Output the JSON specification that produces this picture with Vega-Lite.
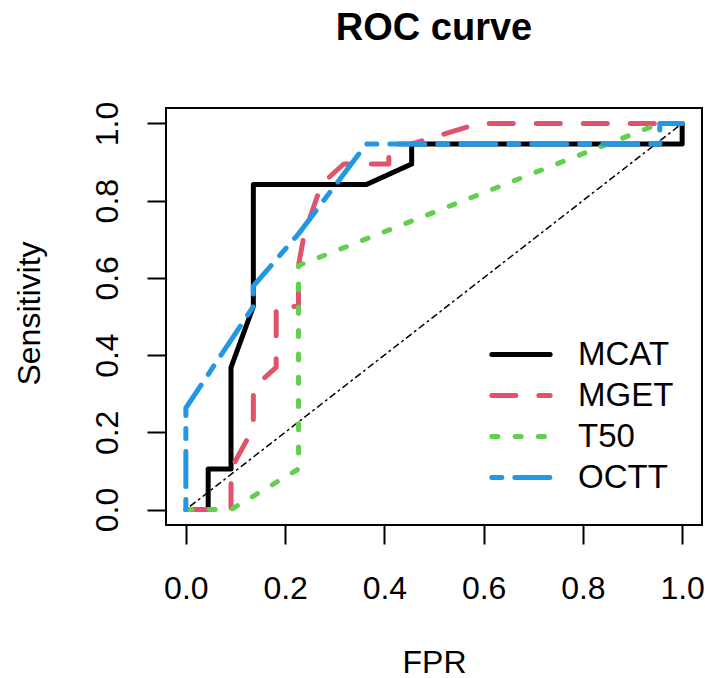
{
  "$schema": "https://vega.github.io/schema/vega-lite/v6.json",
  "width": 536,
  "height": 417,
  "autosize": {"type": "none"},
  "padding": {"left": 166, "top": 108, "right": 3, "bottom": 153},
  "background": "white",
  "title": {
    "text": "ROC curve",
    "font": "Liberation Sans",
    "fontSize": 38,
    "fontWeight": "bold",
    "color": "black",
    "anchor": "middle",
    "frame": "group",
    "offset": 53
  },
  "config": {
    "view": {"stroke": "black", "strokeWidth": 2},
    "axis": {
      "domain": false,
      "grid": false,
      "tickColor": "black",
      "tickWidth": 2,
      "tickSize": 19,
      "labelFont": "Liberation Sans",
      "labelFontSize": 32,
      "labelColor": "black",
      "titleFont": "Liberation Sans",
      "titleFontSize": 32,
      "titleFontWeight": "normal",
      "titleColor": "black"
    }
  },
  "datasets": {
    "curves": [
      {"series": "MCAT", "fpr": 0, "sens": 0, "i": 0},
      {"series": "MCAT", "fpr": 0.045, "sens": 0, "i": 1},
      {"series": "MCAT", "fpr": 0.045, "sens": 0.105, "i": 2},
      {"series": "MCAT", "fpr": 0.091, "sens": 0.105, "i": 3},
      {"series": "MCAT", "fpr": 0.091, "sens": 0.368, "i": 4},
      {"series": "MCAT", "fpr": 0.136, "sens": 0.526, "i": 5},
      {"series": "MCAT", "fpr": 0.136, "sens": 0.842, "i": 6},
      {"series": "MCAT", "fpr": 0.364, "sens": 0.842, "i": 7},
      {"series": "MCAT", "fpr": 0.455, "sens": 0.895, "i": 8},
      {"series": "MCAT", "fpr": 0.455, "sens": 0.947, "i": 9},
      {"series": "MCAT", "fpr": 1, "sens": 0.947, "i": 10},
      {"series": "MCAT", "fpr": 1, "sens": 1, "i": 11},

      {"series": "MGET", "fpr": 0, "sens": 0, "i": 0},
      {"series": "MGET", "fpr": 0.091, "sens": 0, "i": 1},
      {"series": "MGET", "fpr": 0.091, "sens": 0.105, "i": 2},
      {"series": "MGET", "fpr": 0.136, "sens": 0.211, "i": 3},
      {"series": "MGET", "fpr": 0.136, "sens": 0.316, "i": 4},
      {"series": "MGET", "fpr": 0.182, "sens": 0.368, "i": 5},
      {"series": "MGET", "fpr": 0.182, "sens": 0.526, "i": 6},
      {"series": "MGET", "fpr": 0.227, "sens": 0.526, "i": 7},
      {"series": "MGET", "fpr": 0.227, "sens": 0.632, "i": 8},
      {"series": "MGET", "fpr": 0.238, "sens": 0.71, "i": 9},
      {"series": "MGET", "fpr": 0.273, "sens": 0.842, "i": 10},
      {"series": "MGET", "fpr": 0.318, "sens": 0.895, "i": 11},
      {"series": "MGET", "fpr": 0.409, "sens": 0.895, "i": 12},
      {"series": "MGET", "fpr": 0.409, "sens": 0.947, "i": 13},
      {"series": "MGET", "fpr": 0.455, "sens": 0.947, "i": 14},
      {"series": "MGET", "fpr": 0.591, "sens": 1, "i": 15},
      {"series": "MGET", "fpr": 1, "sens": 1, "i": 16},

      {"series": "T50", "fpr": 0, "sens": 0, "i": 0},
      {"series": "T50", "fpr": 0.091, "sens": 0, "i": 1},
      {"series": "T50", "fpr": 0.227, "sens": 0.105, "i": 2},
      {"series": "T50", "fpr": 0.227, "sens": 0.632, "i": 3},
      {"series": "T50", "fpr": 0.955, "sens": 1, "i": 4},
      {"series": "T50", "fpr": 1, "sens": 1, "i": 5},

      {"series": "OCTT", "fpr": 0, "sens": 0, "i": 0},
      {"series": "OCTT", "fpr": 0, "sens": 0.263, "i": 1},
      {"series": "OCTT", "fpr": 0.136, "sens": 0.526, "i": 2},
      {"series": "OCTT", "fpr": 0.136, "sens": 0.579, "i": 3},
      {"series": "OCTT", "fpr": 0.227, "sens": 0.714, "i": 4},
      {"series": "OCTT", "fpr": 0.364, "sens": 0.947, "i": 5},
      {"series": "OCTT", "fpr": 0.955, "sens": 0.947, "i": 6},
      {"series": "OCTT", "fpr": 0.955, "sens": 1, "i": 7},
      {"series": "OCTT", "fpr": 1, "sens": 1, "i": 8}
    ],
    "diag": [
      {"fpr": 0, "sens": 0},
      {"fpr": 1, "sens": 1}
    ]
  },
  "layer": [
    {
      "data": {"name": "diag"},
      "mark": {"type": "line", "color": "black", "strokeWidth": 1.5, "strokeDash": [1.5, 4.4, 5.8, 4.4], "strokeCap": "round"},
      "encoding": {
        "x": {
          "field": "fpr", "type": "quantitative",
          "scale": {"domain": [-0.04, 1.04], "nice": false, "zero": false},
          "axis": {
            "values": [0, 0.2, 0.4, 0.6, 0.8, 1.0],
            "format": ".1f",
            "labelPadding": 54,
            "labelBaseline": "alphabetic",
            "labelAlign": "center",
            "labelFlush": false,
            "labelOverlap": false,
            "title": "FPR",
            "titleX": 268,
            "titleY": 147,
            "titleAlign": "center",
            "titleBaseline": "alphabetic"
          }
        },
        "y": {
          "field": "sens", "type": "quantitative",
          "scale": {"domain": [-0.04, 1.04], "nice": false, "zero": false},
          "axis": {
            "values": [0, 0.2, 0.4, 0.6, 0.8, 1.0],
            "format": ".1f",
            "labelAngle": 270,
            "labelAlign": "center",
            "labelBaseline": "alphabetic",
            "labelPadding": 30,
            "labelFlush": false,
            "labelOverlap": false,
            "title": "Sensitivity",
            "titleAngle": 270,
            "titleX": -127,
            "titleY": 205,
            "titleAlign": "center",
            "titleBaseline": "alphabetic"
          }
        }
      }
    },
    {
      "data": {"name": "curves"},
      "mark": {"type": "line", "strokeWidth": 5, "strokeCap": "round", "strokeJoin": "round"},
      "encoding": {
        "x": {"field": "fpr", "type": "quantitative"},
        "y": {"field": "sens", "type": "quantitative"},
        "order": {"field": "i", "type": "quantitative"},
        "color": {
          "field": "series", "type": "nominal",
          "scale": {"domain": ["MCAT", "MGET", "T50", "OCTT"], "range": ["#000000", "#DF536B", "#61D04F", "#2297E6"]},
          "legend": {
            "title": null,
            "orient": "none",
            "legendX": 323,
            "legendY": 226,
            "padding": 0,
            "symbolType": "stroke",
            "symbolSize": 3400,
            "symbolStrokeWidth": 5,
            "labelFont": "Liberation Sans",
            "labelFontSize": 33,
            "labelColor": "black",
            "labelOffset": 25,
            "rowPadding": 0,
            "clipHeight": 41,
            "labelLimit": 300,
            "encode": {"symbols": {"update": {"strokeCap": {"value": "round"}}}}
          }
        },
        "strokeDash": {
          "field": "series", "type": "nominal",
          "scale": {"domain": ["MCAT", "MGET", "T50", "OCTT"], "range": [[1, 0], [24, 23], [6, 17.3], [10, 13, 35, 13]]},
          "legend": {
            "title": null,
            "orient": "none",
            "legendX": 323,
            "legendY": 226,
            "padding": 0,
            "symbolType": "stroke",
            "symbolSize": 3400,
            "symbolStrokeWidth": 5,
            "labelFont": "Liberation Sans",
            "labelFontSize": 33,
            "labelColor": "black",
            "labelOffset": 25,
            "rowPadding": 0,
            "clipHeight": 41,
            "labelLimit": 300,
            "encode": {"symbols": {"update": {"strokeCap": {"value": "round"}}}}
          }
        }
      }
    }
  ]
}
